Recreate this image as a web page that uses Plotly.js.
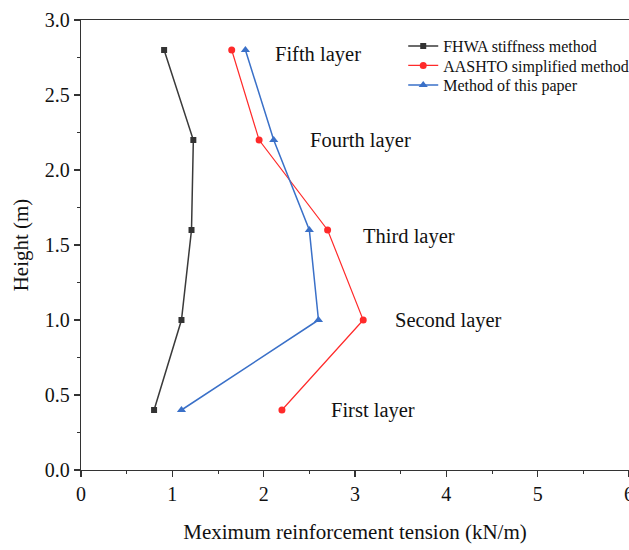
<!DOCTYPE html>
<html>
<head>
<meta charset="utf-8">
<script src="https://cdn.plot.ly/plotly-3.0.1.min.js"></script>
<style>html,body{margin:0;padding:0;background:#fff;}#chart{width:629px;height:550px;}</style>
</head>
<body>
<div id="chart"></div>
<script>
const heights = [0.4, 1.0, 1.6, 2.2, 2.8];
const fhwa = [0.80, 1.10, 1.21, 1.23, 0.91];
const aashto = [2.20, 3.09, 2.70, 1.95, 1.65];
const thisPaper = [1.10, 2.60, 2.50, 2.11, 1.80];
const seriesNames = ["FHWA stiffness method", "AASHTO simplified method", "Method of this paper"];
const layerLabels = ["First layer", "Second layer", "Third layer", "Fourth layer", "Fifth layer"];
const labelX = [2.72, 3.42, 3.07, 2.49, 2.10];
const labelY = [0.4, 0.995, 1.56, 2.2, 2.77];

const serif = "Liberation Serif, Times New Roman, serif";
const traces = [
  {x: fhwa, y: heights, name: seriesNames[0], mode: "lines+markers", legend: "legend",
   line: {color: "#3a3a3a", width: 1.5}, marker: {symbol: "square", size: 6, color: "#333333"}},
  {x: aashto, y: heights, name: seriesNames[1], mode: "lines+markers", legend: "legend2",
   line: {color: "#ff2a2a", width: 1.2}, marker: {symbol: "circle", size: 7, color: "#ff2a2a"}},
  {x: thisPaper, y: heights, name: seriesNames[2], mode: "lines+markers", legend: "legend3",
   line: {color: "#3a70c8", width: 1.5}, marker: {symbol: "triangle-up", size: 8, color: "#3a70c8"}}
];

const annotations = layerLabels.map((t, i) => ({
  x: labelX[i], y: labelY[i], xref: "x", yref: "y", text: t, showarrow: false,
  xanchor: "left", yanchor: "middle", font: {family: serif, size: 20.5, color: "#111"}
}));

const axisCommon = {
  showgrid: false, zeroline: false, showline: true, mirror: true, automargin: false,
  linecolor: "#333", linewidth: 1.3, ticks: "outside", ticklen: 6, tickwidth: 1.3,
  tickcolor: "#333", tickfont: {family: serif, size: 20, color: "#111"},
  ticklabeloverflow: "allow"
};

function legendAt(py) {
  return {x: 0.588, y: (470 - py) / 450, xanchor: "left", yanchor: "middle",
    font: {family: serif, size: 16, color: "#111"}, bgcolor: "rgba(0,0,0,0)"};
}

const layout = {
  width: 629, height: 550,
  margin: {l: 81, r: 0, t: 20, b: 80, autoexpand: false},
  paper_bgcolor: "#fff", plot_bgcolor: "#fff",
  showlegend: true,
  legend: legendAt(46),
  legend2: legendAt(65.5),
  legend3: legendAt(85),
  xaxis: Object.assign({}, axisCommon, {
    range: [0, 6], dtick: 1, tick0: 0,
    minor: {dtick: 0.5, ticks: "outside", ticklen: 3, tickcolor: "#333", tickwidth: 1},
    title: {text: "Meximum reinforcement tension (kN/m)", font: {family: serif, size: 21, color: "#111"}, standoff: 20}
  }),
  yaxis: Object.assign({}, axisCommon, {
    range: [0, 3], dtick: 0.5, tick0: 0, tickformat: ".1f",
    minor: {dtick: 0.25, ticks: "outside", ticklen: 3, tickcolor: "#333", tickwidth: 1},
    title: {text: "Height (m)", font: {family: serif, size: 21, color: "#111"}, standoff: 10}
  }),
  annotations: annotations
};

Plotly.newPlot("chart", traces, layout, {displayModeBar: false, staticPlot: true});
</script>
</body>
</html>
